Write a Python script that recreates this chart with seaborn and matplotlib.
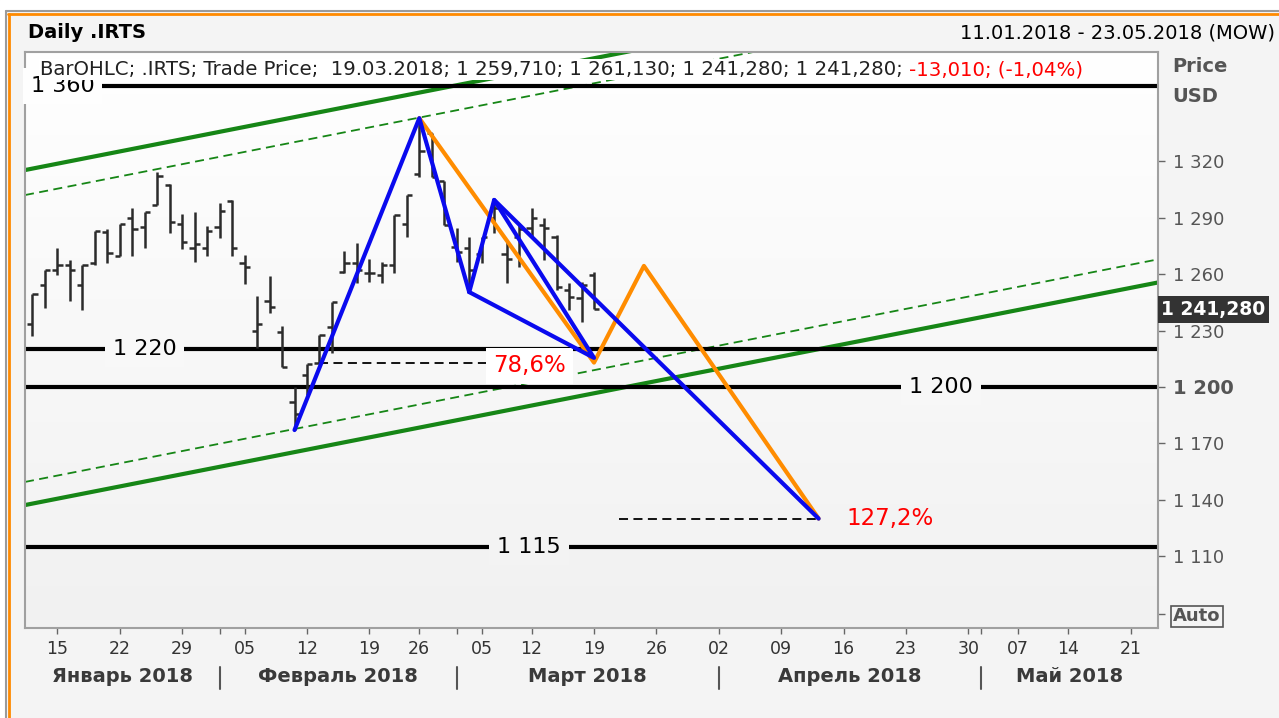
import numpy as np
import pandas as pd
import matplotlib
matplotlib.use("Agg")
import matplotlib.pyplot as plt
import matplotlib.transforms as mtransforms
from matplotlib.colors import LinearSegmentedColormap
from matplotlib.lines import Line2D
from matplotlib.patches import Rectangle
import seaborn as sns

# trading calendar shown on the axis (MOEX 2018)
start_date = "2018-01-11"
end_date = "2018-05-23"
holidays = ["2018-02-23", "2018-03-08", "2018-05-01", "2018-05-09"]
month_names = ["Январь 2018", "Февраль 2018", "Март 2018", "Апрель 2018", "Май 2018"]

# daily OHLC bars, 11.01.2018 .. 19.03.2018
bar_open = [1233.4, 1254.1, 1262.2, 1264.9, 1254.1, 1265.8, 1282.3, 1269.9, 1289.7, 1285.3,
            1296.8, 1307.4, 1286.5, 1273.8, 1273.8, 1285.3, 1299.1, 1265.8, 1229.8, 1245.9,
            1229.4, 1192.2, 1206.4, 1212.6, 1232.1, 1261.0, 1265.8, 1260.5, 1259.6, 1264.9,
            1286.7, 1313.3, 1335.0, 1309.7, 1274.6, 1273.8, 1271.0, 1290.0, 1270.7, 1280.0,
            1284.4, 1286.2, 1280.0, 1251.6, 1247.2, 1259.71]
bar_high = [1249.3, 1262.2, 1274.1, 1267.6, 1264.9, 1283.0, 1284.0, 1286.7, 1295.0, 1292.9,
            1314.5, 1307.8, 1291.9, 1292.9, 1285.6, 1298.0, 1299.5, 1270.2, 1248.4, 1259.0,
            1232.4, 1200.2, 1212.2, 1227.7, 1245.0, 1272.4, 1276.7, 1267.9, 1266.7, 1291.5,
            1302.1, 1343.0, 1335.0, 1309.7, 1284.4, 1280.0, 1280.0, 1299.5, 1278.2, 1287.0,
            1295.0, 1289.7, 1280.9, 1255.1, 1256.0, 1261.13]
bar_low = [1227.3, 1242.2, 1259.6, 1245.7, 1241.0, 1264.9, 1265.8, 1269.9, 1269.7, 1274.1,
           1296.8, 1281.8, 1273.2, 1266.7, 1269.7, 1279.4, 1269.7, 1254.8, 1221.0, 1239.2,
           1210.8, 1177.1, 1195.7, 1212.6, 1217.9, 1260.4, 1255.1, 1256.0, 1255.1, 1260.8,
           1279.9, 1311.5, 1311.5, 1286.2, 1266.7, 1250.5, 1265.8, 1281.8, 1255.1, 1264.0,
           1280.0, 1267.6, 1251.6, 1241.0, 1234.7, 1241.28]
bar_close = [1249.3, 1262.2, 1264.9, 1262.2, 1264.9, 1283.0, 1271.4, 1286.7, 1283.9, 1292.9,
             1312.2, 1287.6, 1277.3, 1275.9, 1283.0, 1293.8, 1273.8, 1264.0, 1233.4, 1242.7,
             1210.8, 1185.6, 1212.2, 1227.7, 1245.0, 1266.0, 1262.0, 1260.5, 1264.9, 1291.5,
             1302.1, 1325.7, 1311.5, 1286.2, 1272.0, 1262.2, 1280.0, 1295.0, 1268.0, 1284.0,
             1289.7, 1284.4, 1253.3, 1248.0, 1254.29, 1241.28]

# harmonic pattern points X, A, B, C, D and the small D
pattern_dates = ["2018-02-09", "2018-02-26", "2018-03-02", "2018-03-06", "2018-04-12"]
pattern_prices = [1177.1, 1343.0, 1250.5, 1299.5, 1130.0]
small_d_date = "2018-03-19"
small_d_price = 1215.5

# orange projection A -> 1 -> 2 -> D
orange_dates = ["2018-02-26", "2018-03-19", "2018-03-23", "2018-04-12"]
orange_prices = [1343.0, 1213.0, 1264.4, 1130.0]

# horizontal levels
levels = [1360, 1220, 1200, 1115]
level_labels = ["1 360", "1 220", "1 200", "1 115"]

# fibonacci levels
fib_prices = [1212.7, 1130.0]
fib_labels = ["78,6%", "127,2%"]
fib_start = ["2018-02-13", "2018-03-21"]
fib_end = ["2018-03-06", "2018-04-12"]

# trend channel (values at left and right edge of the chart)
channel_lower = [1137.2, 1255.6]
channel_lower_dash = [1149.5, 1267.9]
channel_upper = [1315.4, 1433.8]
channel_upper_dash = [1302.1, 1420.5]

yticks = [1110, 1140, 1170, 1200, 1230, 1260, 1290, 1320]

sns.set_style("white")
plt.rcParams["font.family"] = ["DejaVu Sans"]

days = pd.bdate_range(start_date, end_date, freq="C", holidays=holidays)
pos = {d.strftime("%Y-%m-%d"): i for i, d in enumerate(days)}
x_left, x_right = -0.6, 90.2
y_bottom, y_top = 1071.8, 1378.2

fig = plt.figure(figsize=(12.79, 7.18), dpi=100, facecolor="#f4f4f4")
ax = fig.add_axes([25 / 1279, 1 - 628 / 718, 1133 / 1279, 576 / 718])

# frame around the chart window
fig.add_artist(Rectangle((0, 1 - 11 / 718), 1, 11 / 718, transform=fig.transFigure, color="white", zorder=-5))
fig.add_artist(Rectangle((0, 0), 6 / 1279, 1, transform=fig.transFigure, color="white", zorder=-5))
fig.add_artist(Line2D([6 / 1279, 1], [1 - 11 / 718] * 2, transform=fig.transFigure, color="#9a9a9a", lw=1.5))
fig.add_artist(Line2D([6 / 1279] * 2, [0, 1 - 11 / 718], transform=fig.transFigure, color="#9a9a9a", lw=1.5))
fig.add_artist(Line2D([8 / 1279, 1], [1 - 14 / 718] * 2, transform=fig.transFigure, color="#ff8a00", lw=2))
fig.add_artist(Line2D([9 / 1279] * 2, [0, 1 - 14 / 718], transform=fig.transFigure, color="#ff8a00", lw=2))

# background gradient of the plot area
bg = LinearSegmentedColormap.from_list("bg", ["#ffffff", "#f1f1f1"])
ax.imshow(np.linspace(0, 1, 256).reshape(-1, 1), extent=[0, 1, 0, 1], transform=ax.transAxes,
          aspect="auto", cmap=bg, zorder=0)

def bg_at(v):
    return bg((y_top - v) / (y_top - y_bottom))

# channel
for vals, ls, lw in [(channel_lower, "-", 3), (channel_upper, "-", 3),
                     (channel_lower_dash, (0, (5, 3)), 1.3), (channel_upper_dash, (0, (5, 3)), 1.3)]:
    sns.lineplot(x=[x_left, x_right], y=vals, ax=ax, color="#168616", lw=lw, linestyle=ls, zorder=2)

# horizontal levels with labels
label_x = [2.4, 9.0, 72.8, 39.8]
for lv, txt, lx in zip(levels, level_labels, label_x):
    ax.axhline(lv, color="black", lw=3, zorder=2)
    ax.text(lx, lv, txt, ha="center", va="center", fontsize=16, color="black", zorder=3,
            bbox=dict(boxstyle="square,pad=0.35", fc=bg_at(lv), ec="none"))

# fib dashed lines
for p, lab, s, e in zip(fib_prices, fib_labels, fib_start, fib_end):
    sns.lineplot(x=[pos[s], pos[e]], y=[p, p], ax=ax, color="black", lw=1.3,
                 linestyle=(0, (5, 3)), zorder=3)
xa = pos[fib_end[0]]
ax.text(xa - 0.1, fib_prices[0] - 1.5, fib_labels[0], ha="left", va="center", fontsize=16.5,
        color="#ff0000", zorder=3, bbox=dict(boxstyle="square,pad=0.3", fc="white", ec="none"))
ax.annotate(fib_labels[1], xy=(pos[fib_end[1]], fib_prices[1]), xytext=(20, 0),
            textcoords="offset points", ha="left", va="center", fontsize=16.5, color="#ff0000", zorder=3)

# OHLC bars
xb = np.arange(len(bar_open))
ax.vlines(xb, bar_low, bar_high, color="#2b2b2b", lw=1.8, zorder=4)
ax.hlines(bar_open, xb - 0.42, xb, color="#2b2b2b", lw=1.8, zorder=4)
ax.hlines(bar_close, xb, xb + 0.42, color="#2b2b2b", lw=1.8, zorder=4)

# harmonic pattern
px = [pos[d] for d in pattern_dates]
X, A, B, C, D = zip(px, pattern_prices)
sd = (pos[small_d_date], small_d_price)
for pts in [(X, A, B, X), (B, C, D, B), (B, sd, C)]:
    sns.lineplot(x=[p[0] for p in pts], y=[p[1] for p in pts], ax=ax, sort=False,
                 color="#0a0aee", lw=3, zorder=6)
sns.lineplot(x=[pos[d] for d in orange_dates], y=orange_prices, ax=ax, sort=False,
             color="#ff8c00", lw=3, zorder=5)

# header line inside the chart
def fmt(v):
    return f"{v:,.3f}".replace(",", " ").replace(".", ",")

chg = bar_close[-1] - bar_close[-2]
pct = chg / bar_close[-2] * 100
head = ax.text(0.013, 0.969, "BarOHLC; .IRTS; Trade Price;  " + days[len(bar_open) - 1].strftime("%d.%m.%Y")
               + f"; {fmt(bar_open[-1])}; {fmt(bar_high[-1])}; {fmt(bar_low[-1])}; {fmt(bar_close[-1])}; ",
               transform=ax.transAxes, ha="left", va="center", fontsize=14.2, color="#222222", zorder=8,
               bbox=dict(boxstyle="square,pad=0.05", fc="white", ec="none"))
ax.annotate(f"{chg:.3f}".replace(".", ",") + "; (" + f"{pct:.2f}".replace(".", ",") + "%)",
            xy=(1, 0.5), xycoords=head, ha="left", va="center", fontsize=14.2, color="#ff0000", zorder=8)

# axes
ax.set_xlim(x_left, x_right)
ax.set_ylim(y_bottom, y_top)
ax.set_xlabel("")
ax.set_ylabel("")
for s in ax.spines.values():
    s.set_color("#a0a0a0")
    s.set_linewidth(1.5)

ax.yaxis.tick_right()
ax.set_yticks(yticks + [1079])
ax.set_yticklabels([f"{v // 1000} {v % 1000:03d}" for v in yticks] + ["Auto"])
ax.tick_params(axis="y", which="both", right=True, left=False, length=5, width=1, color="#666666",
               labelsize=13, labelcolor="#555555", pad=6)
for t in ax.get_yticklabels():
    if t.get_text() == "1 200":
        t.set_fontweight("bold")
        t.set_fontsize(14)
    if t.get_text() == "Auto":
        t.set_fontweight("bold")
        t.set_bbox(dict(boxstyle="square,pad=0.1", fc="none", ec="#555555", lw=1.2))

mondays = [i for i, d in enumerate(days) if d.weekday() == 0]
bounds = [i for i in range(1, len(days)) if days[i].month != days[i - 1].month]
ax.set_xticks(mondays)
ax.set_xticklabels([f"{days[i].day:02d}" for i in mondays])
ax.set_xticks([b for b in bounds if b not in mondays], minor=True)
ax.tick_params(axis="x", which="both", bottom=True, length=4, width=1, color="#666666",
               labelsize=12.5, labelcolor="#333333", pad=5)

trans = mtransforms.blended_transform_factory(ax.transData, ax.transAxes)
edges = [x_left] + bounds + [x_right]
for k, name in enumerate(month_names):
    ax.text((edges[k] + edges[k + 1]) / 2, -0.085, name, transform=trans, ha="center", va="center",
            fontsize=14, fontweight="bold", color="#3a3a3a")
for b in bounds:
    ax.plot([b, b], [-0.068, -0.106], transform=trans, color="#555555", lw=1.5, clip_on=False)

# price box on the axis
ytrans = mtransforms.blended_transform_factory(ax.transAxes, ax.transData)
ax.text(1.003, bar_close[-1], fmt(bar_close[-1]), transform=ytrans, ha="left", va="center",
        fontsize=13.5, fontweight="bold", color="white", zorder=10, clip_on=False,
        bbox=dict(boxstyle="square,pad=0.2", fc="#333333", ec="none"))

fig.text(1172 / 1279, 1 - 67 / 718, "Price", ha="left", va="center", fontsize=14,
         fontweight="bold", color="#555555")
fig.text(1172 / 1279, 1 - 96 / 718, "USD", ha="left", va="center", fontsize=14,
         fontweight="bold", color="#555555")
fig.text(28 / 1279, 1 - 33 / 718, "Daily .IRTS", ha="left", va="center", fontsize=14,
         fontweight="bold", color="black")
fig.text(1275 / 1279, 1 - 33 / 718, "11.01.2018 - 23.05.2018 (MOW)", ha="right", va="center",
         fontsize=14, color="black")

fig.savefig("out.png", dpi=100, facecolor=fig.get_facecolor())
